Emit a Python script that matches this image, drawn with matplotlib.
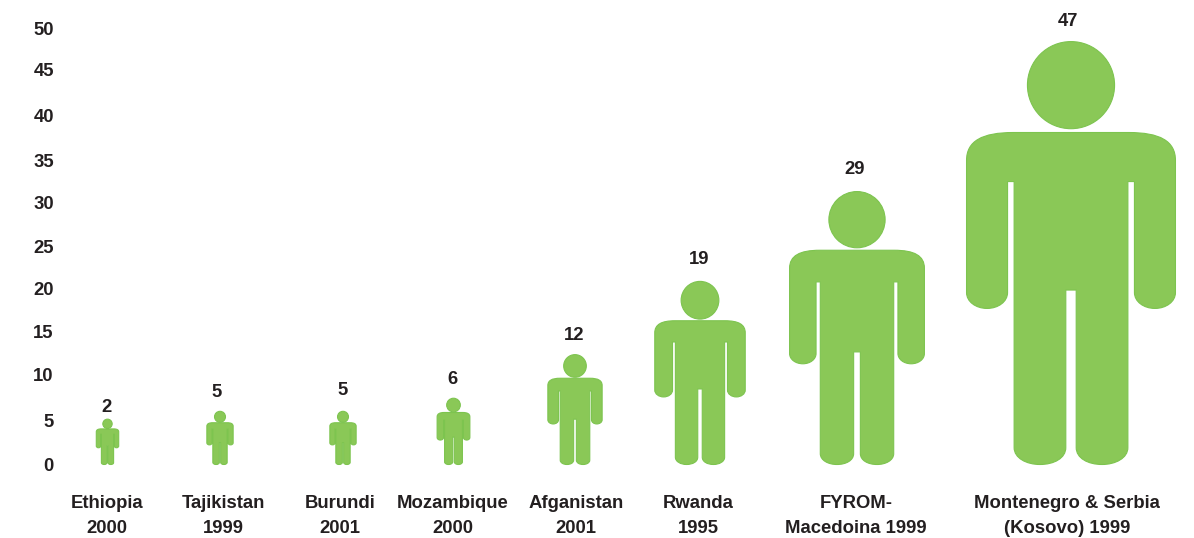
import matplotlib
matplotlib.use('Agg')
import matplotlib.pyplot as plt
from matplotlib.path import Path
from matplotlib.patches import PathPatch
import numpy as np

plt.rcParams['font.family'] = ['Liberation Sans', 'DejaVu Sans']
plt.rcParams['font.weight'] = 'bold'

# data
countries = ['Ethiopia\n2000', 'Tajikistan\n1999', 'Burundi\n2001', 'Mozambique\n2000',
             'Afganistan\n2001', 'Rwanda\n1995', 'FYROM-\nMacedoina 1999',
             'Montenegro & Serbia\n(Kosovo) 1999']
values = [2, 5, 5, 6, 12, 19, 29, 47]
# drawn icon heights on the axis scale (the small icons are not strictly to scale)
icon_heights = [5.2, 6.1, 6.1, 7.6, 12.6, 21.0, 31.3, 48.5]
y_labels = ['0', '5', '10', '15', '20', '25', '30', '35', '40', '45', '50']
# the labels in the source sit slightly off an even spacing
y_label_pos = [0, 5.05, 10.35, 15.2, 20.2, 25.0, 30.0, 34.9, 40.0, 45.3, 50.0]

# layout, in pixels
icon_x = [107.5, 220, 343, 453.5, 575, 700, 857, 1071]
value_x = [107, 217, 343, 452, 574, 699, 855, 1068]
label_x = [107, 223, 340, 453, 576, 698, 856, 1067]
value_gap = [12, 19, 21, 19, 19, 22, 22, 20]

GREEN = '#8AC857'
EDGE = '#7DC44F'
TEXT = '#231F20'
PX_PER_UNIT = 8.72
Y0_PX = 464.5
FS = 13.3

fig = plt.figure(figsize=(11.94, 5.38), dpi=100, facecolor='white')
ax = fig.add_axes([60 / 1194, 0, 1 - 60 / 1194, 1])
ax.set_xlim(60, 1194)
ax.set_ylim(-(538 - Y0_PX) / PX_PER_UNIT, Y0_PX / PX_PER_UNIT)
for s in ax.spines.values():
    s.set_visible(False)
ax.set_xticks([])
ax.set_yticks(y_label_pos, y_labels)
ax.tick_params(axis='y', length=0, pad=4.5, labelsize=FS, labelcolor=TEXT)

# ── person outline, height = 1, right half then mirrored ──
L, C = Path.LINETO, Path.CURVE4
half = [
    (Path.MOVETO, (0.0123, 0.4125)),
    (L, (0.0123, 0.04)),
    (C, (0.0123, 0.015)), (C, (0.04, 0.0)), (C, (0.0735, 0.0)),
    (C, (0.105, 0.0)), (C, (0.1345, 0.015)), (C, (0.1345, 0.04)),
    (L, (0.1345, 0.669)),
    (L, (0.150, 0.669)),
    (L, (0.150, 0.4066)),
    (C, (0.150, 0.385)), (C, (0.172, 0.369)), (C, (0.1985, 0.369)),
    (C, (0.225, 0.369)), (C, (0.247, 0.385)), (C, (0.247, 0.4066)),
    (L, (0.247, 0.719)),
    (C, (0.247, 0.765)), (C, (0.21, 0.785)), (C, (0.136, 0.785)),
]
codes = [c for c, _ in half]
verts = [p for _, p in half]
mirror_verts = [(-x, y) for x, y in verts[::-1]]
mirror_codes = [L] + codes[:0:-1]
body_verts = verts + mirror_verts + [verts[0]]
body_codes = codes + mirror_codes + [Path.CLOSEPOLY]
body = Path(body_verts, body_codes)
head = Path.circle((0, 0.897), 0.103)


def person(cx, h):
    for unit in (body, head):
        v = unit.vertices * [h * PX_PER_UNIT, h] + [cx, 0]
        ax.add_patch(PathPatch(Path(v, unit.codes), facecolor=GREEN, edgecolor=EDGE,
                               linewidth=0.8, joinstyle='round'))


for i in range(len(values)):
    person(icon_x[i], icon_heights[i])
    ax.annotate(str(values[i]), (value_x[i], icon_heights[i]), xytext=(0, value_gap[i] * 0.72),
                textcoords='offset points', ha='center', va='center',
                fontsize=FS, color=TEXT)
    ax.text(label_x[i], -(516 - Y0_PX) / PX_PER_UNIT, countries[i], ha='center', va='center',
            fontsize=FS, color=TEXT, linespacing=1.67)

fig.savefig('out.png', dpi=100, facecolor='white')
print('saved')
